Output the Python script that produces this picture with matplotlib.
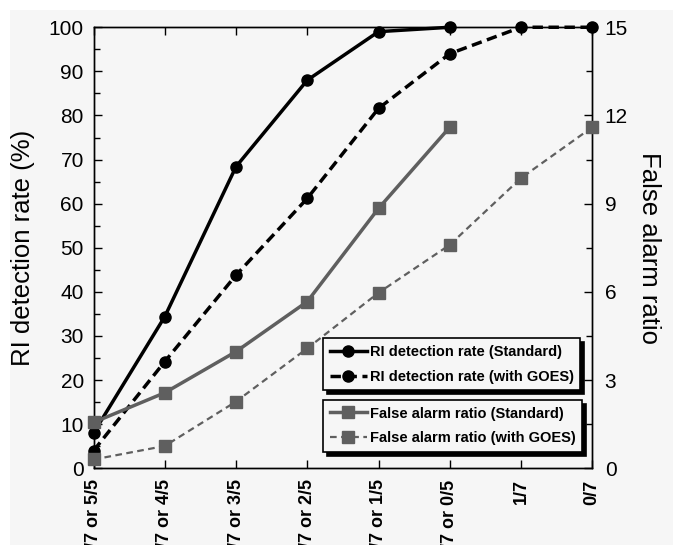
import matplotlib
matplotlib.use("Agg")
import matplotlib.pyplot as plt
from matplotlib.patches import Rectangle
from matplotlib.ticker import MultipleLocator

plt.rcParams['font.family'] = ['Liberation Sans', 'DejaVu Sans']

# =========================================================
# DATA
# =========================================================
thresholds = [
    "7/7 or 5/5", "6/7 or 4/5", "5/7 or 3/5", "4/7 or 2/5",
    "3/7 or 1/5", "2/7 or 0/5", "1/7", "0/7"
]
ri_standard = [8, 34.4, 68.4, 88, 99, 100]
ri_goes = [4, 24.2, 43.8, 61.2, 81.6, 94, 100, 100]
far_standard = [1.56, 2.57, 3.97, 5.67, 8.84, 11.6]
far_goes = [0.3, 0.76, 2.27, 4.08, 5.97, 7.6, 9.87, 11.6]

x_all = list(range(len(thresholds)))
x_std = x_all[:len(ri_standard)]

# =========================================================
# FIGURE
# =========================================================
fig = plt.figure(figsize=(6.73, 5.45), dpi=100, facecolor='white')
fig.patches.append(Rectangle((10 / 673, 0), 1, 1 - 10 / 545,
                             transform=fig.transFigure,
                             facecolor='#f6f6f6', edgecolor='none',
                             zorder=-10))

ax = fig.add_axes([0.139, 0.1407, 0.741, 0.8093])
ax.set_facecolor('#f6f6f6')
ax2 = ax.twinx()

grey = '#5f5f5f'

l1, = ax.plot(x_std, ri_standard, color='black', lw=2.5, marker='o',
              ms=8, clip_on=False, zorder=5,
              label='RI detection rate (Standard)')
l2, = ax.plot(x_all, ri_goes, color='black', lw=2.5, ls=(0, (3, 1.6)),
              marker='o', ms=8, clip_on=False, zorder=5,
              label='RI detection rate (with GOES)')
l3, = ax2.plot(x_std, far_standard, color=grey, lw=2.5, marker='s',
               ms=8.5, clip_on=False, zorder=3,
               label='False alarm ratio (Standard)')
l4, = ax2.plot(x_all, far_goes, color=grey, lw=1.6, ls=(0, (3, 2)),
               marker='s', ms=8, clip_on=False, zorder=3,
               label='False alarm ratio (with GOES)')

# =========================================================
# AXES
# =========================================================
ax.set_xlim(0, 7)
ax.set_ylim(0, 100)
ax2.set_ylim(0, 15)

ax.yaxis.set_major_locator(MultipleLocator(10))
ax.yaxis.set_minor_locator(MultipleLocator(5))
ax2.yaxis.set_major_locator(MultipleLocator(3))
ax2.yaxis.set_minor_locator(MultipleLocator(1.5))

ax.set_xticks(x_all)
ax.set_xticklabels(thresholds, rotation=90, fontsize=13,
                   fontweight='bold', va='top')

ax.tick_params(axis='x', direction='in', top=True, length=6,
               width=1, pad=8)
ax.tick_params(axis='y', which='major', direction='in', length=6,
               width=1, labelsize=15, pad=7)
ax.tick_params(axis='y', which='minor', direction='in', length=4,
               width=1)
ax2.tick_params(axis='y', which='major', direction='in', length=6,
                width=1, labelsize=15, pad=9)
ax2.tick_params(axis='y', which='minor', direction='in', length=4,
                width=1)

for a in (ax, ax2):
    for s in a.spines.values():
        s.set_linewidth(1)

ax.set_ylabel('RI detection rate (%)', fontsize=18.5, labelpad=10)
ax2.set_ylabel('False alarm ratio', fontsize=18.5, rotation=270,
               labelpad=24)

# =========================================================
# LEGENDS (two separate boxes with shadows)
# =========================================================
leg_kw = dict(frameon=True, fancybox=False, edgecolor='black',
              facecolor='#f6f6f6', framealpha=1,
              prop={'weight': 'bold', 'size': 10.5},
              handlelength=2.6, handletextpad=0.15, borderpad=0.45,
              labelspacing=0.75, borderaxespad=0,
              shadow={'color': 'black', 'alpha': 1, 'ox': 3, 'oy': -3})

leg1 = ax2.legend(handles=[l1, l2], loc='upper left',
                  bbox_to_anchor=(0.46, 0.295), **leg_kw)
ax2.add_artist(leg1)
leg2 = ax2.legend(handles=[l3, l4], loc='upper left',
                  bbox_to_anchor=(0.46, 0.155), **leg_kw)
for leg in (leg1, leg2):
    leg.get_frame().set_linewidth(1.2)
    leg.set_zorder(10)

fig.savefig("out.png", dpi=100, facecolor=fig.get_facecolor())
plt.close(fig)
